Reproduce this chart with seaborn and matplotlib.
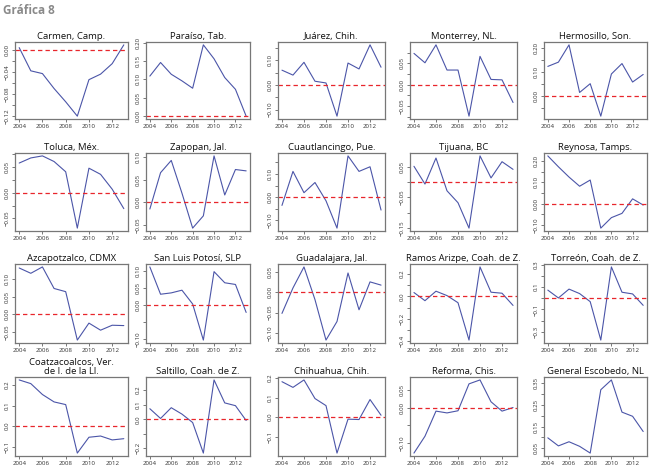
import numpy as np
import pandas as pd
import matplotlib
matplotlib.use("Agg")
import matplotlib.pyplot as plt
import seaborn as sns

years = list(range(2004, 2014))
xtick_years = [2004, 2006, 2008, 2010, 2012]

titles = ["Carmen, Camp.", "Paraíso, Tab.", "Juárez, Chih.", "Monterrey, NL.", "Hermosillo, Son.",
          "Toluca, Méx.", "Zapopan, Jal.", "Cuautlancingo, Pue.", "Tijuana, BC", "Reynosa, Tamps.",
          "Azcapotzalco, CDMX", "San Luis Potosí, SLP", "Guadalajara, Jal.", "Ramos Arizpe, Coah. de Z.", "Torreón, Coah. de Z.",
          "Coatzacoalcos, Ver.\nde I. de la Ll.", "Saltillo, Coah. de Z.", "Chihuahua, Chih.", "Reforma, Chis.", "General Escobedo, NL"]

carmen = [0.004, -0.038, -0.043, -0.070, -0.094, -0.120, -0.054, -0.044, -0.025, 0.009]
paraiso = [0.109, 0.146, 0.114, 0.096, 0.076, 0.194, 0.156, 0.105, 0.073, 0.000]
juarez = [0.060, 0.040, 0.092, 0.015, 0.008, -0.127, 0.089, 0.065, 0.163, 0.072]
monterrey = [0.073, 0.051, 0.093, 0.034, 0.034, -0.074, 0.066, 0.012, 0.011, -0.042]
hermosillo = [0.124, 0.142, 0.215, 0.014, 0.051, -0.086, 0.092, 0.136, 0.058, 0.090]
toluca = [0.058, 0.068, 0.072, 0.061, 0.041, -0.069, 0.048, 0.036, 0.007, -0.031]
zapopan = [-0.015, 0.065, 0.092, 0.020, -0.057, -0.030, 0.102, 0.016, 0.072, 0.069]
cuautlancingo = [-0.036, 0.111, 0.019, 0.063, -0.016, -0.134, 0.178, 0.111, 0.131, -0.056]
tijuana = [0.051, -0.007, 0.078, -0.029, -0.068, -0.151, 0.085, 0.013, 0.066, 0.041]
reynosa = [0.224, 0.173, 0.125, 0.082, 0.111, -0.114, -0.065, -0.045, 0.023, -0.006]
azcapotzalco = [0.131, 0.116, 0.134, 0.073, 0.064, -0.073, -0.025, -0.045, -0.031, -0.032]
slp = [0.113, 0.032, 0.036, 0.044, 0.003, -0.104, 0.099, 0.066, 0.061, -0.022]
guadalajara = [-0.052, 0.011, 0.063, -0.018, -0.118, -0.072, 0.048, -0.043, 0.026, 0.018]
ramos = [0.033, -0.039, 0.045, 0.006, -0.057, -0.388, 0.260, 0.036, 0.027, -0.081]
torreon = [0.073, 0.003, 0.082, 0.042, -0.030, -0.373, 0.280, 0.054, 0.039, -0.063]
coatza = [0.225, 0.207, 0.154, 0.118, 0.105, -0.131, -0.054, -0.048, -0.067, -0.061]
saltillo = [0.072, 0.005, 0.079, 0.035, -0.023, -0.233, 0.270, 0.112, 0.093, -0.009]
chihuahua = [0.181, 0.152, 0.190, 0.095, 0.059, -0.183, -0.010, -0.012, 0.090, 0.010]
reforma = [-0.127, -0.080, -0.010, -0.015, -0.009, 0.066, 0.077, 0.016, -0.010, 0.000]
escobedo = [0.098, 0.061, 0.080, 0.059, 0.028, 0.319, 0.364, 0.216, 0.197, 0.127]

series = [carmen, paraiso, juarez, monterrey, hermosillo,
          toluca, zapopan, cuautlancingo, tijuana, reynosa,
          azcapotzalco, slp, guadalajara, ramos, torreon,
          coatza, saltillo, chihuahua, reforma, escobedo]

# y tick marks (step) and labelled values per panel
ytick_step = [0.02, 0.05, 0.05, 0.025, 0.05,
              0.025, 0.05, 0.05, 0.05, 0.05,
              0.05, 0.05, 0.05, 0.1, 0.1,
              0.1, 0.1, 0.1, 0.05, 0.05]
ytick_labels = [[0.00, -0.04, -0.08, -0.12], [0.00, 0.05, 0.10, 0.15, 0.20], [-0.10, 0.00, 0.10], [-0.05, 0.00, 0.05], [-0.10, 0.00, 0.10, 0.20],
                [-0.05, 0.00, 0.05], [-0.05, 0.00, 0.05, 0.10], [-0.10, 0.00, 0.10], [-0.15, -0.05, 0.05], [-0.10, 0.00, 0.10, 0.20],
                [-0.05, 0.00, 0.05, 0.10], [-0.10, 0.00, 0.05, 0.10], [-0.10, -0.05, 0.00, 0.05], [-0.4, -0.2, 0.0, 0.2], [-0.3, -0.1, 0.1, 0.3],
                [-0.1, 0.0, 0.1, 0.2], [-0.2, 0.0, 0.1, 0.2], [-0.1, 0.0, 0.1, 0.2], [-0.10, 0.00, 0.05], [0.05, 0.15, 0.25, 0.35]]
ytick_decimals = [2, 2, 2, 2, 2, 2, 2, 2, 2, 2, 2, 2, 2, 1, 1, 1, 1, 1, 2, 2]

sns.set_style("white")
plt.rcParams['font.family'] = ['Open Sans', 'DejaVu Sans']

W, H = 662, 470
fig = plt.figure(figsize=(W / 100, H / 100), dpi=100)

row_top = [42, 153, 264, 377]
row_bot = [119, 231, 343, 456]
col_left = [15, 146, 278, 410, 544]
col_right = [128, 250, 385, 517, 647]

blue = "#4b55a8"
red = "#e8262c"


def fmt(t, d):
    if abs(t) < 1e-9:
        t = 0.0
    s = f"{abs(t):.{d}f}"
    return ("\u2212" + s) if t < 0 else s


for i, (title, vals) in enumerate(zip(titles, series)):
    r, c = divmod(i, 5)
    l = col_left[c] / W
    b = (H - row_bot[r]) / H
    w = (col_right[c] - col_left[c]) / W
    h = (row_bot[r] - row_top[r]) / H
    ax = fig.add_axes([l, b, w, h])
    df = pd.DataFrame({"year": years, "value": vals})
    sns.lineplot(data=df, x="year", y="value", ax=ax, color=blue, linewidth=0.8)
    ax.axhline(0, color=red, linewidth=0.9, dashes=(3.5, 2.5))
    vmin, vmax = min(vals), max(vals)
    pad = (vmax - vmin) * 0.04
    ax.set_ylim(vmin - pad, vmax + pad)
    ax.set_xlim(2004 - 9 * 0.04, 2013 + 9 * 0.04)
    step = ytick_step[i]
    lo = np.ceil((vmin - pad) / step - 1e-9) * step
    ticks = np.arange(lo, vmax + pad + 1e-9, step)
    ax.set_yticks(ticks)
    labs = ytick_labels[i]
    d = ytick_decimals[i]
    ax.set_yticklabels([fmt(t, d) if any(abs(t - v) < 1e-6 for v in labs) else "" for t in ticks],
                       rotation=90, va="center")
    ax.set_xticks(xtick_years)
    ax.set_xticklabels([str(y) for y in xtick_years])
    ax.set_xlabel("")
    ax.set_ylabel("")
    ax.tick_params(axis="both", length=2, width=0.5, color="#444444", labelsize=4.4, labelcolor="#333333", pad=1.5)
    ax.tick_params(left=True, bottom=True)
    for sp in ax.spines.values():
        sp.set_color("#777777")
        sp.set_linewidth(0.9)
        sp.set_visible(True)
    ax.set_title(title, fontsize=6.8, pad=2, color="#111111", linespacing=1.0)

fig.text(3 / W, 1 - 11 / H, "Gráfica 8", fontsize=8.5, fontweight="bold", color="#8a8a8a", va="center", ha="left")

fig.savefig("out.png", dpi=100)
